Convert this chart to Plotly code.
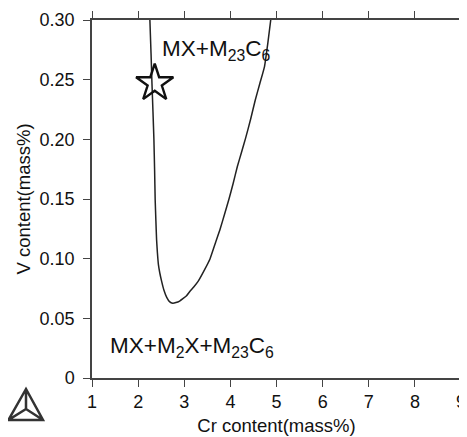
import plotly.graph_objects as go

# Boundary curve (Cr mass%, V mass%)
cr_curve = [2.255, 2.28, 2.30, 2.322, 2.342, 2.357, 2.370, 2.385, 2.400, 2.418, 2.44,
            2.47, 2.51, 2.56, 2.62, 2.68, 2.75, 2.82, 2.90, 2.97, 3.05, 3.12,
            3.21, 3.30, 3.43, 3.56, 3.67, 3.78, 3.875, 3.97, 4.06, 4.15, 4.24,
            4.33, 4.44, 4.54, 4.64, 4.74, 4.81, 4.875]
v_curve = [0.300, 0.272, 0.247, 0.223, 0.200, 0.175, 0.149, 0.132, 0.116, 0.105, 0.095,
           0.088, 0.081, 0.0735, 0.0675, 0.064, 0.0627, 0.0632, 0.0645, 0.0665, 0.069, 0.0725,
           0.0765, 0.081, 0.090, 0.100, 0.1125, 0.125, 0.1375, 0.150, 0.163, 0.177, 0.189,
           0.201, 0.217, 0.233, 0.247, 0.261, 0.280, 0.300]

star_cr = [2.36]
star_v = [0.247]

x_ticks = [1, 2, 3, 4, 5, 6, 7, 8, 9]
y_ticks = [0, 0.05, 0.10, 0.15, 0.20, 0.25, 0.30]
y_labels = ["0", "0.05", "0.10", "0.15", "0.20", "0.25", "0.30"]

region_labels = ["MX+M<sub>23</sub>C<sub>6</sub>", "MX+M<sub>2</sub>X+M<sub>23</sub>C<sub>6</sub>"]
region_x = [2.47, 1.35]
region_y = [0.275, 0.026]

FONT = "Liberation Sans, Arial, sans-serif"

# The page body has an 8px margin, so the figure is sized to fill the rest of the window
W, H = 459, 429
ML, MR, MT, MB = 84, 6, 12, 59

fig = go.Figure()
fig.add_trace(go.Scatter(x=cr_curve, y=v_curve, mode="lines",
                         line=dict(color="#222", width=1.5, shape="spline", smoothing=0.4),
                         hoverinfo="skip", showlegend=False))
fig.add_trace(go.Scatter(x=star_cr, y=star_v, mode="markers",
                         marker=dict(symbol="star-open", size=28, color="#111",
                                     line=dict(width=2.4, color="#111")),
                         showlegend=False))

for t, x, y in zip(region_labels, region_x, region_y):
    fig.add_annotation(x=x, y=y, text=t, showarrow=False, xanchor="left", yanchor="middle",
                       font=dict(family=FONT, size=22.5, color="#111"))

# Thermo-Calc style logo (decoration, paper coordinates; pixel positions in the page)
PW = W - ML - MR
PH = H - MT - MB

def px(xp):
    return (xp - 8 - ML) / PW

def py(yp):
    return (H - MB + 8 - yp) / PH

ax, ay = 26, 389
bl, br, by_ = 8.5, 43, 420
cx, cy = 26, 409
logo = (f"M {px(ax)},{py(ay)} L {px(bl)},{py(by_)} L {px(br)},{py(by_)} Z "
        f"M {px(ax)},{py(ay)} L {px(cx)},{py(cy)} "
        f"M {px(bl)},{py(by_)} L {px(cx)},{py(cy)} "
        f"M {px(br)},{py(by_)} L {px(cx)},{py(cy)}")
fig.add_shape(type="path", path=logo, xref="paper", yref="paper",
              line=dict(color="#333", width=2.5), layer="above")

axis_common = dict(showline=True, linecolor="#444", linewidth=1.5, mirror="ticks",
                   ticks="outside", ticklen=7, tickwidth=1.2, tickcolor="#444",
                   showgrid=False, zeroline=False, automargin=False,
                   tickfont=dict(family=FONT, size=18, color="#111"),
                   title_font=dict(family=FONT, size=18.5, color="#111"))

fig.update_xaxes(range=[1, 9], tickvals=x_ticks, ticktext=[str(v) for v in x_ticks],
                 title_text="Cr content(mass%)", title_standoff=8, **axis_common)
fig.update_yaxes(range=[0, 0.30], tickvals=y_ticks, ticktext=y_labels,
                 ticklabelstandoff=5,
                 title_text="V content(mass%)", title_standoff=4, **axis_common)

fig.update_layout(width=W, height=H, plot_bgcolor="white", paper_bgcolor="white",
                  margin=dict(l=ML, r=MR, t=MT, b=MB), showlegend=False)

fig.write_html("out.html")
